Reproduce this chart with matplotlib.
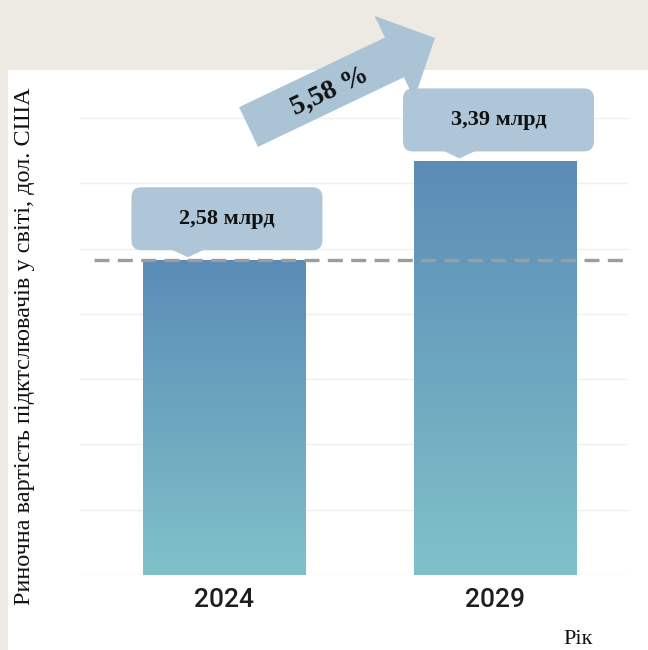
import numpy as np
import matplotlib
matplotlib.use("Agg")
import matplotlib.pyplot as plt
import matplotlib.transforms as mtransforms
from matplotlib.patches import FancyBboxPatch, Polygon, Rectangle
from matplotlib.colors import LinearSegmentedColormap

# ---- data ----
years = ["2024", "2029"]
values = [2.58, 3.39]
growth_label = "5,58 %"
value_labels = [f"{v:.2f}".replace(".", ",") + " млрд" for v in values]
ylabel = "Риночна вартість підктслювачів у світі, дол. США"
xlabel = "Рік"

W, H = 648, 650
DPI = 100
fig = plt.figure(figsize=(W / DPI, H / DPI), dpi=DPI)
fig.patch.set_facecolor("#EDEAE3")
# white panel
fig.add_artist(Rectangle((8 / W, 0), 1 - 8 / W, (H - 70) / H, transform=fig.transFigure,
                         facecolor="white", edgecolor="none", zorder=0))

ax_l, ax_r = 80, 628
ax_b, ax_t = 575, 100
ax = fig.add_axes([ax_l / W, (H - ax_b) / H, (ax_r - ax_l) / W, (ax_b - ax_t) / H])
ax.set_facecolor("none")
px_per_unit = 122.0
ax.set_ylim(0, (ax_b - ax_t) / px_per_unit)
ax.set_xlim(-0.530, 1.488)
x = np.arange(len(years))
bw = 0.597

# grid
ax.set_yticks(np.arange(0, 3.9, 0.535))
ax.yaxis.grid(True, color="#EFEFEF", linewidth=1.0)
ax.set_axisbelow(True)
for s in ax.spines.values():
    s.set_visible(False)
ax.tick_params(axis="y", left=False, labelleft=False)
ax.tick_params(axis="x", bottom=False, pad=6)
ax.set_xticks(x)
ax.set_xticklabels(years, fontfamily="Roboto", fontweight="medium", fontsize=19,
                   color="#1E1E1E")

# gradient bars
cmap = LinearSegmentedColormap.from_list("g", ["#80C1C9", "#5A8CB6"])
bars = ax.bar(x, values, width=bw, color="none", edgecolor="none", zorder=2)
grad = np.linspace(0, 1, 256).reshape(-1, 1)
for b in bars:
    x0, w, h = b.get_x(), b.get_width(), b.get_height()
    im = ax.imshow(grad, cmap=cmap, origin="lower", aspect="auto",
                   extent=(x0, x0 + w, 0, h), zorder=2)
    im.set_clip_path(b)
ax.set_xlim(-0.530, 1.488)
ax.set_ylim(0, (ax_b - ax_t) / px_per_unit)

# dashed reference line at first value
ax.plot([-0.48, 1.488], [values[0], values[0]], color="#9A9EA1", linewidth=2.4,
        dashes=(4.5, 2.5), zorder=3, solid_capstyle="butt")

fig.canvas.draw()
ident = mtransforms.IdentityTransform()

def to_disp(xd, yd):
    return ax.transData.transform((xd, yd))

box_col = "#AFC6D8"
# value bubbles
for xi, v, lab in zip(x, values, value_labels):
    cx, top = to_disp(xi, v)
    bw_px, bh_px = 191, 63
    bx0 = cx + 3 - bw_px / 2
    by0 = top + 10
    box = FancyBboxPatch((bx0, by0), bw_px, bh_px,
                         boxstyle="round,pad=0,rounding_size=10",
                         transform=ident, facecolor=box_col, edgecolor="none", zorder=4)
    fig.add_artist(box)
    tipx = cx - 36
    tri = Polygon([(tipx - 17, by0 + 1), (tipx + 17, by0 + 1), (tipx, top + 3)],
                  closed=True, transform=ident, facecolor=box_col, edgecolor="none", zorder=4)
    fig.add_artist(tri)
    fig.text(cx + 3, by0 + bh_px / 2, lab, transform=ident, ha="center", va="center",
             fontfamily="Liberation Serif", fontweight="bold", fontsize=16,
             color="#111111", zorder=5)

# growth arrow (pixel geometry, top-origin converted)
def P(px, py):
    return (px, H - py)

tail = np.array([248.5, 127.0])
tip = np.array([435.0, 38.0])
u = (tip - tail) / np.linalg.norm(tip - tail)
n = np.array([-u[1], u[0]])
L = np.linalg.norm(tip - tail)
hl, tw, hw = 45.0, 22.0, 46.0
base = tail + u * (L - hl)
pts = [tail + n * tw, base + n * tw, base + n * hw, tip,
       base - n * hw, base - n * tw, tail - n * tw]
arrow = Polygon([P(*p) for p in pts], closed=True, transform=ident,
                facecolor="#AAC4D6", edgecolor="none", zorder=6)
fig.add_artist(arrow)
ang = np.degrees(np.arctan2(-(u[1]), u[0]))
fig.text(330, H - 91, growth_label, transform=ident, ha="center", va="center",
         rotation=ang, rotation_mode="anchor", fontfamily="Liberation Serif",
         fontweight="bold", fontsize=20, color="#111111", zorder=7)

# axis titles
fig.text(25, H - 346, ylabel, transform=ident, ha="center", va="center", rotation=90,
         fontfamily="Liberation Serif", fontsize=17.5, color="#111111")
fig.text(578, H - 640, xlabel, transform=ident, ha="center", va="center",
         fontfamily="Liberation Serif", fontsize=16, color="#111111")

fig.savefig("out.png", dpi=DPI, facecolor=fig.get_facecolor())
